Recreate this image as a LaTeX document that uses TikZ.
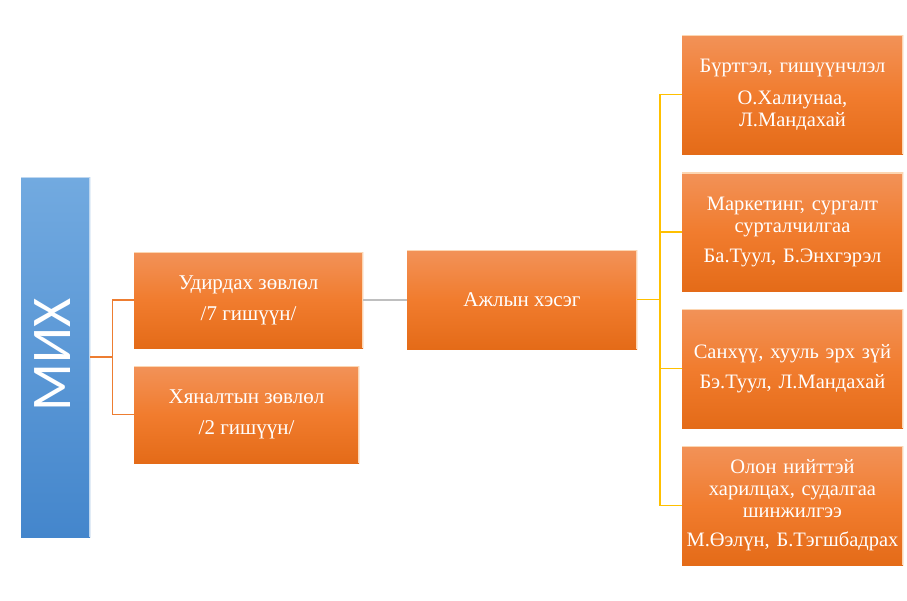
\documentclass[tikz,border=0pt]{standalone}
\usepackage{fontspec}
\setmainfont{Liberation Serif}
\newfontfamily\mixfont{Carlito}
\definecolor{obtop}{RGB}{242,146,88}
\definecolor{obmid}{RGB}{241,124,46}
\definecolor{obbot}{RGB}{228,107,24}
\definecolor{bltop}{RGB}{114,170,224}
\definecolor{blbot}{RGB}{68,134,204}
\definecolor{oline}{RGB}{237,125,49}
\definecolor{yline}{RGB}{255,192,0}
\definecolor{gline}{RGB}{191,191,191}
\definecolor{obevel}{RGB}{252,214,178}
\definecolor{bbevel}{RGB}{190,215,240}
\tikzset{
  obox/.style={rectangle, inner sep=1pt, top color=obtop, bottom color=obbot, middle color=obmid,
    text=white, align=center,
    path picture={\draw[obevel,line width=2.5pt] (path picture bounding box.north west) -- (path picture bounding box.north east) -- (path picture bounding box.south east);}},
  leftbox/.style={obox, font=\fontsize{21}{31}\selectfont},
  rightbox/.style={obox, font=\fontsize{20.5}{22}\selectfont, text width=219pt, minimum width=221pt, minimum height=119pt},
  mixbox/.style={rectangle, inner sep=0pt, top color=bltop, bottom color=blbot, minimum width=69pt, minimum height=360pt,
    path picture={\draw[bbevel,line width=2.5pt] (path picture bounding box.north west) -- (path picture bounding box.north east) -- (path picture bounding box.south east);}},
  oconn/.style={draw=oline, line width=1.4pt},
  yconn/.style={draw=yline, line width=1.8pt},
  gconn/.style={draw=gline, line width=1.8pt},
}
\begin{document}
\begin{tikzpicture}[x=1pt,y=-1pt]
\useasboundingbox (0,0) rectangle (907,600);
\fill[white] (0,0) rectangle (907,600);
\node[mixbox] (mix) at (55.5,357) {};
\node[rotate=90, text=white, inner sep=0pt, font=\mixfont\fontsize{56}{56}\selectfont] (mixlabel) at ([xshift=-3pt,yshift=2pt]mix.center) {МИХ};

\node[leftbox, minimum width=229pt, minimum height=96pt] (ud) at (248.5,300) {Удирдах зөвлөл\\/7 гишүүн/};
\node[leftbox, minimum width=225pt, minimum height=97pt] (kh) at (246.5,414.5) {Хяналтын зөвлөл\\/2 гишүүн/};
\node[leftbox, minimum width=230pt, minimum height=99pt] (aj) at (522,299.5) {Ажлын хэсэг};

\node[rightbox] (r1) at (792.5,94.5) {Бүртгэл, гишүүнчлэл\\[10pt]О.Халиунаа,\\Л.Мандахай};
\node[rightbox] (r2) at (792.5,232) {Маркетинг, сургалт\\сурталчилгаа\\[8pt]Ба.Туул, Б.Энхгэрэл};
\node[rightbox] (r3) at (792.5,368.5) {Санхүү, хууль эрх зүй\\[8pt]Бэ.Туул, Л.Мандахай};
\node[rightbox] (r4) at (792.5,505.5) {Олон нийттэй\\харилцах, судалгаа\\шинжилгээ\\[7pt]М.Өэлүн, Б.Тэгшбадрах};

\coordinate (j1) at ([xshift=22pt]mix.east);
\draw[oconn] (mix.east) -- (j1);
\draw[oconn] (j1) |- (ud.west);
\draw[oconn] (j1) |- (kh.west);
\draw[gconn] (ud.east) -- (ud.east -| aj.west);
\coordinate (j2) at ([xshift=23pt]aj.east);
\draw[yconn] (aj.east) -- (j2);
\draw[yconn] (j2) |- (r1.west);
\draw[yconn] (j2) |- (r2.west);
\draw[yconn] (j2) |- (r3.west);
\draw[yconn] (j2) |- (r4.west);
\end{tikzpicture}
\end{document}
